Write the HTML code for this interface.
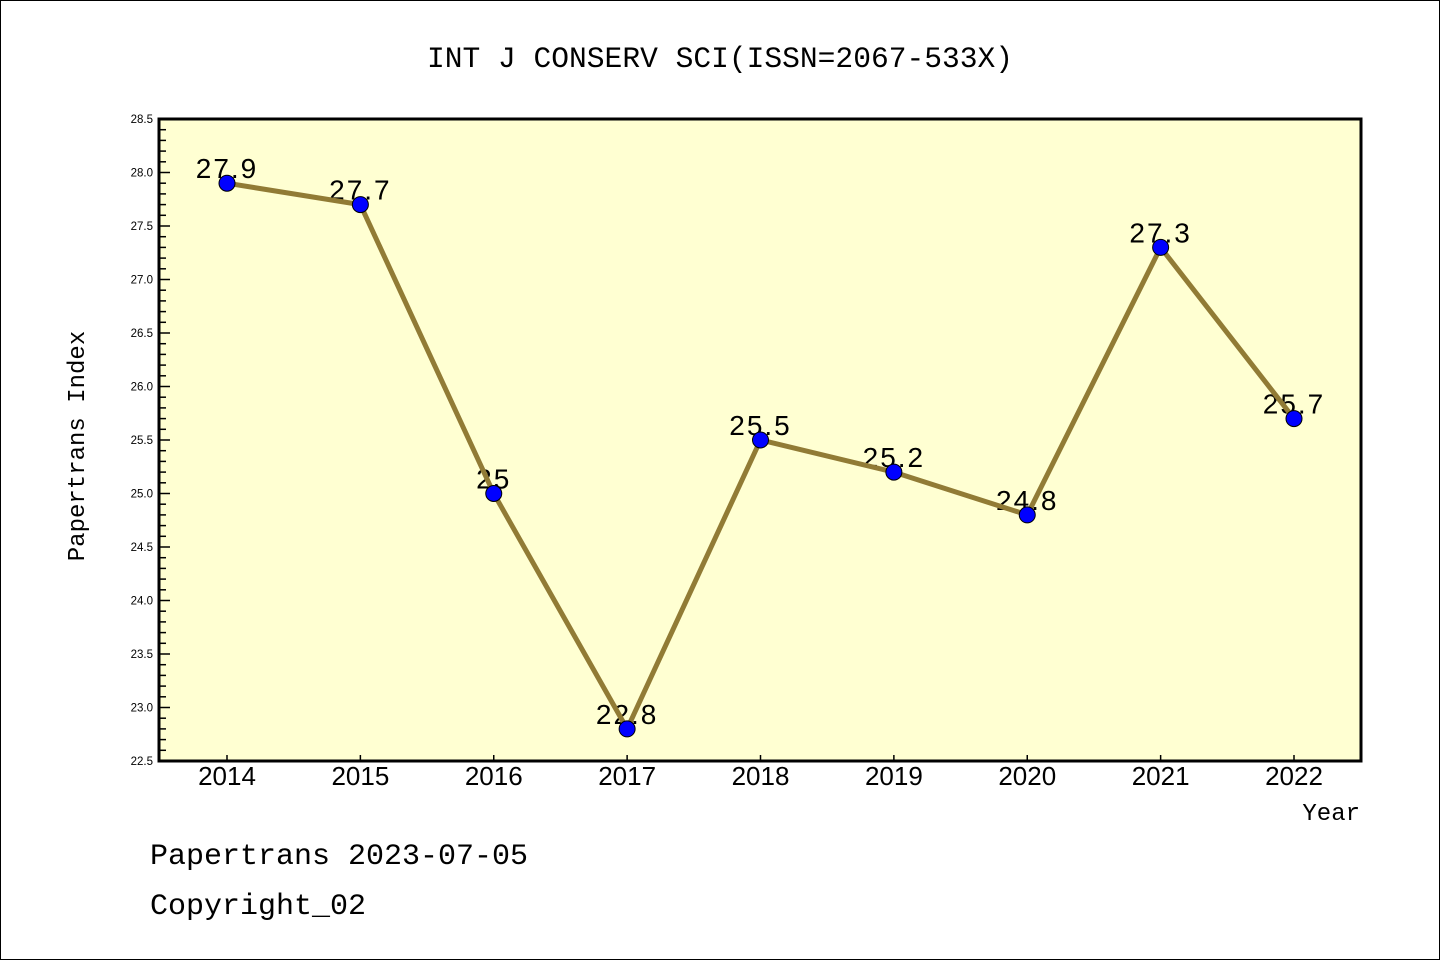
<!DOCTYPE html>
<html><head><meta charset="utf-8"><style>
html,body{margin:0;padding:0;background:#fff}
svg{display:block}
</style></head><body>
<svg id="chart" width="1440" height="960" xmlns="http://www.w3.org/2000/svg">
<rect x="0.5" y="0.5" width="1439" height="959" fill="#fff" stroke="#000"/>
<text x="720" y="67" text-anchor="middle" font-family="Liberation Mono, monospace" font-size="29.6" fill="#000">INT J CONSERV SCI(ISSN=2067-533X)</text>
<rect x="159" y="119" width="1202" height="642" fill="#ffffd2"/>
<g id="yaxis"></g>
<g id="xaxis"></g>
<g id="labels"></g>
<g id="series"></g>
<rect x="159" y="119" width="1202" height="642" fill="none" stroke="#000" stroke-width="3"/>
<text transform="translate(84,446) rotate(-90)" text-anchor="middle" font-family="Liberation Mono, monospace" font-size="24" fill="#000">Papertrans Index</text>
<text x="1360" y="820" text-anchor="end" font-family="Liberation Mono, monospace" font-size="24" fill="#000">Year</text>
<text x="150" y="864" font-family="Liberation Mono, monospace" font-size="30" fill="#000">Papertrans 2023-07-05</text>
<text x="150" y="914" font-family="Liberation Mono, monospace" font-size="30" fill="#000">Copyright_02</text>
</svg>
<script>
const years = ["2014","2015","2016","2017","2018","2019","2020","2021","2022"];
const values = [27.9,27.7,25.0,22.8,25.5,25.2,24.8,27.3,25.7];
const valueLabels = ["27.9","27.7","25","22.8","25.5","25.2","24.8","27.3","25.7"];
const yTicks = ["22.5","23.0","23.5","24.0","24.5","25.0","25.5","26.0","26.5","27.0","27.5","28.0","28.5"];
{
const NS="http://www.w3.org/2000/svg";
const yMin=22.5,yMax=28.5,plotTop=119,plotBot=761;
function ys(v){return plotBot-(v-yMin)/(yMax-yMin)*(plotBot-plotTop);}
function xs(i){return 227+i*(1294-227)/(years.length-1);}
function mk(tag,attrs,parent){const e=document.createElementNS(NS,tag);for(const k in attrs)e.setAttribute(k,attrs[k]);parent.appendChild(e);return e;}
const ya=document.getElementById('yaxis'),xa=document.getElementById('xaxis'),lb=document.getElementById('labels'),se=document.getElementById('series');
for(let k=0;k<=60;k++){
  const v=yMin+k*0.1;const y=ys(v);const major=k%5===0;
  const t=mk('line',{x1:159,x2:159+(major?11:7),y1:y,y2:y,stroke:'#000','stroke-width':1.5},ya);
  
  
}
yTicks.forEach(s=>{
  const t=mk('text',{x:153,y:ys(parseFloat(s))+4,'text-anchor':'end','font-family':'Liberation Sans, sans-serif','font-size':11.5,fill:'#000'},ya);
  t.textContent=s;
  
  
});
years.forEach((yr,i)=>{
  const x=xs(i);
  const l=mk('line',{x1:x,x2:x,y1:761,y2:755,stroke:'#000','stroke-width':1.5},xa);
  
  
  const t=mk('text',{x:x,y:785,'text-anchor':'middle','font-family':'Liberation Sans, sans-serif','font-size':26,fill:'#000'},xa);
  t.textContent=yr;
  
  
});
values.forEach((v,i)=>{
  const t=mk('text',{x:xs(i),y:ys(v)-5,'text-anchor':'middle','font-family':'Liberation Sans, sans-serif','font-size':28,'letter-spacing':2,fill:'#000'},lb);
  t.textContent=valueLabels[i];
  
  
});
const pts=values.map((v,i)=>xs(i)+','+ys(v)).join(' ');
const pl=mk('polyline',{points:pts,fill:'none',stroke:'#917b35','stroke-width':5,'stroke-linejoin':'round'},se);


values.forEach((v,i)=>{
  const c=mk('circle',{cx:xs(i),cy:ys(v),r:8,fill:'#0000ff',stroke:'#000','stroke-width':1},se);
  
  
});
}
</script>
</body></html>
